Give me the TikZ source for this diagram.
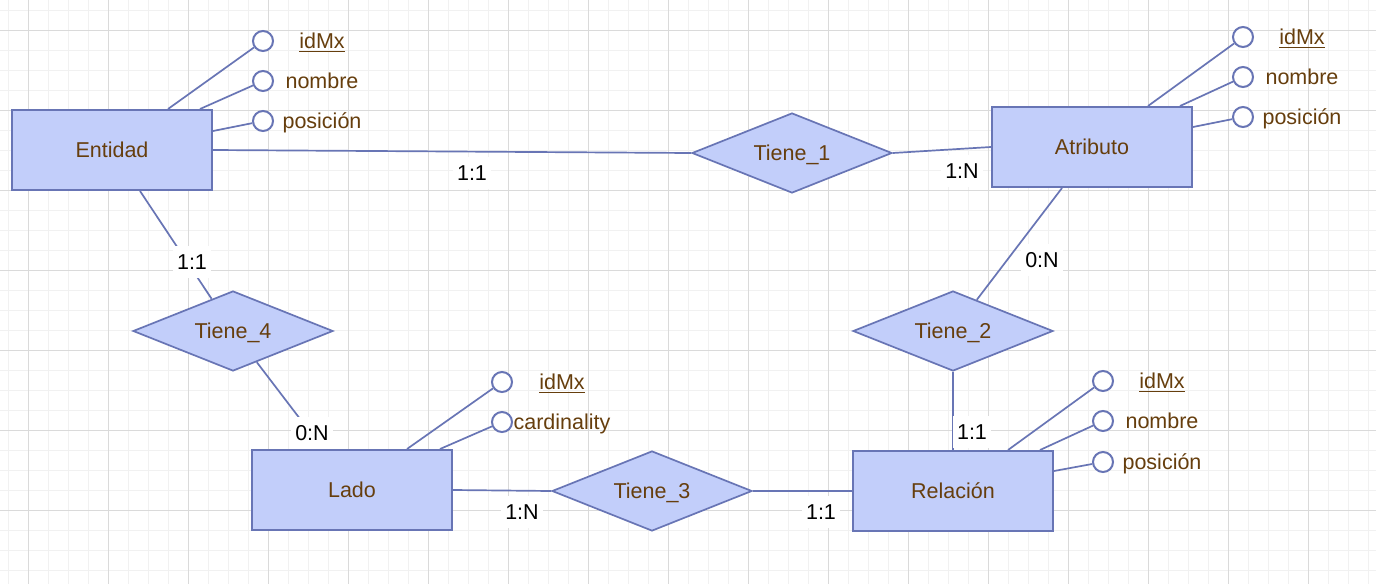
\documentclass[tikz,border=0pt]{standalone}
\usepackage{fontspec}
\setmainfont{Liberation Sans}
\usetikzlibrary{shapes.geometric}
\definecolor{boxfill}{RGB}{194,206,250}
\definecolor{boxline}{RGB}{104,117,181}
\definecolor{txtbrown}{RGB}{102,62,13}
\definecolor{gridmajor}{RGB}{218,218,218}
\definecolor{gridminor}{RGB}{241,241,241}
\begin{document}
\begin{tikzpicture}[x=1pt,y=-1pt,
  every node/.style={font=\fontsize{21.5pt}{26pt}\selectfont},
  entity/.style={draw=boxline, fill=boxfill, line width=2pt, minimum width=200pt,
    minimum height=80pt, inner sep=0pt, text=txtbrown, text height=15.5pt, text depth=0pt},
  relship/.style={diamond, shape aspect=2.5, draw=boxline, fill=boxfill, line width=1.7pt,
    minimum width=200pt, minimum height=80pt, inner sep=0pt, text=txtbrown,
    text height=15.5pt, text depth=0pt},
  attr/.style={circle, draw=boxline, fill=white, line width=2pt, minimum size=20pt, inner sep=0pt},
  attrtext/.style={text=txtbrown, inner sep=0pt, anchor=base},
  card/.style={fill=white, text=black, inner xsep=4pt, inner ysep=8pt, text height=15.5pt, text depth=0pt},
  link/.style={draw=boxline, line width=1.7pt},
  keyline/.style={draw=txtbrown, line width=1.4pt},
  minorgrid/.style={draw=gridminor, line width=1pt},
  majorgrid/.style={draw=gridmajor, line width=1pt}
]
\useasboundingbox (0,0) rectangle (1376,584);
\fill[white] (0,0) rectangle (1376,584);

% background grid
\foreach \x in {8,28,...,1368} \draw[minorgrid] (\x,0) -- (\x,584);
\foreach \y in {10,30,...,570} \draw[minorgrid] (0,\y) -- (1376,\y);
\foreach \x in {28,108,...,1308} \draw[majorgrid] (\x,0) -- (\x,584);
\foreach \y in {30,110,...,510} \draw[majorgrid] (0,\y) -- (1376,\y);

% entities
\node[entity] (ent) at (112,150) {Entidad};
\node[entity] (atr) at (1092,147) {Atributo};
\node[entity] (lad) at (352,490) {Lado};
\node[entity] (rel) at (953,491) {Relación};

% relationships
\node[relship] (t1) at (792,153) {Tiene\_1};
\node[relship] (t4) at (233,331) {Tiene\_4};
\node[relship] (t3) at (652,491) {Tiene\_3};
\node[relship] (t2) at (953,331) {Tiene\_2};

% attributes of Entidad
\node[attr] (ea1) at (263,41) {};
\node[attr] (ea2) at (263,81) {};
\node[attr] (ea3) at (263,121) {};
\node[attrtext] (eat1) at (322,48.5) {idMx};
\node[attrtext] (eat2) at (322,88.5) {nombre};
\node[attrtext] (eat3) at (322,128.5) {posición};
\draw[link] ([xshift=56pt]ent.north) -- (ea1);
\draw[link] ([xshift=88pt]ent.north) -- (ea2);
\draw[link] ([yshift=19pt]ent.east) -- (ea3);
\draw[keyline] ([yshift=-3pt]eat1.base west) -- ([yshift=-3pt]eat1.base east);

% attributes of Atributo
\node[attr] (aa1) at (1243,37) {};
\node[attr] (aa2) at (1243,77) {};
\node[attr] (aa3) at (1243,117) {};
\node[attrtext] (aat1) at (1302,44.5) {idMx};
\node[attrtext] (aat2) at (1302,84.5) {nombre};
\node[attrtext] (aat3) at (1302,124.5) {posición};
\draw[link] ([xshift=56pt]atr.north) -- (aa1);
\draw[link] ([xshift=88pt]atr.north) -- (aa2);
\draw[link] ([yshift=20pt]atr.east) -- (aa3);
\draw[keyline] ([yshift=-3pt]aat1.base west) -- ([yshift=-3pt]aat1.base east);

% attributes of Lado
\node[attr] (la1) at (502,382) {};
\node[attr] (la2) at (502,422) {};
\node[attrtext] (lat1) at (562,389.5) {idMx};
\node[attrtext] (lat2) at (562,429.5) {cardinality};
\draw[link] ([xshift=55pt]lad.north) -- (la1);
\draw[link] ([xshift=88pt]lad.north) -- (la2);
\draw[keyline] ([yshift=-3pt]lat1.base west) -- ([yshift=-3pt]lat1.base east);

% attributes of Relación
\node[attr] (ra1) at (1103,381) {};
\node[attr] (ra2) at (1103,421) {};
\node[attr] (ra3) at (1103,462) {};
\node[attrtext] (rat1) at (1162,388.5) {idMx};
\node[attrtext] (rat2) at (1162,428.5) {nombre};
\node[attrtext] (rat3) at (1162,469.5) {posición};
\draw[link] ([xshift=55pt]rel.north) -- (ra1);
\draw[link] ([xshift=87pt]rel.north) -- (ra2);
\draw[link] ([yshift=20pt]rel.east) -- (ra3);
\draw[keyline] ([yshift=-3pt]rat1.base west) -- ([yshift=-3pt]rat1.base east);

% relationship connectors
\draw[link] (ent.east) -- (t1.west);
\draw[link] (t1.east) -- (atr.west);
\draw[link] ([xshift=28pt]ent.south) -- (t4);
\draw[link] (t4) -- ([xshift=-29pt]lad.north);
\draw[link] (lad.east) -- (t3.west);
\draw[link] (t3.east) -- (rel.west);
\draw[link] (t2.south) -- (rel.north);
\draw[link] ([xshift=-30pt]atr.south) -- (t2);

% cardinalities
\node[card] (c1) at (472,173) {1:1};
\node[card] (c2) at (962,171) {1:N};
\node[card] (c3) at (192,262) {1:1};
\node[card] (c4) at (312,433) {0:N};
\node[card] (c5) at (522,512) {1:N};
\node[card] (c6) at (821,512) {1:1};
\node[card] (c7) at (972,432) {1:1};
\node[card] (c8) at (1042,260) {0:N};
\end{tikzpicture}
\end{document}
